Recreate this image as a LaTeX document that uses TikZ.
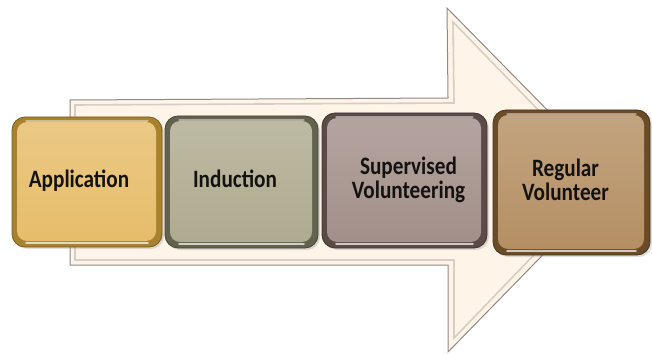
\documentclass[tikz,border=0pt]{standalone}
\usepackage{fontspec}
\usepackage{graphicx}
\setmainfont{Carlito}
\usetikzlibrary{shadows}
\definecolor{arrowfill}{HTML}{FEF4E8}
\definecolor{arrowline}{HTML}{8E8A86}
\definecolor{arrowinner}{HTML}{D6CEC6}
\definecolor{rimA}{HTML}{A8822E}\definecolor{faceA}{HTML}{E6BC68}
\definecolor{rimI}{HTML}{62624E}\definecolor{faceI}{HTML}{AEAA8E}
\definecolor{rimS}{HTML}{5A4A48}\definecolor{faceS}{HTML}{A28E88}
\definecolor{rimR}{HTML}{6A4C28}\definecolor{faceR}{HTML}{B48E62}
\definecolor{labeltext}{HTML}{141210}
\newcommand{\stagetext}[1]{\scalebox{1.06}[1.25]{\fontsize{20}{16}\selectfont\bfseries\begin{tabular}{@{}c@{}}#1\end{tabular}}}
\begin{document}
\begin{tikzpicture}[x=1pt,y=-1pt,
  stagebox/.style n args={4}{draw=#1!70!black, line width=0.8pt, fill=#1,
    rounded corners=13pt, minimum width=#3pt, minimum height=#4pt,
    inner sep=0pt, align=center, text=labeltext,
    drop shadow={opacity=0.25, shadow xshift=2pt, shadow yshift=-2pt},
    path picture={
      \shade[top color=#2!80!white, bottom color=#2, rounded corners=10pt]
        ([shift={(5pt,6pt)}]path picture bounding box.south west) rectangle
        ([shift={(-6pt,-5pt)}]path picture bounding box.north east);
      \draw[white, opacity=0.7, line width=1.6pt, line cap=round]
        ([shift={(14pt,4pt)}]path picture bounding box.south west) --
        ([shift={(-14pt,4pt)}]path picture bounding box.south east);
      \draw[white, opacity=0.45, line width=1.2pt, line cap=round]
        ([shift={(14pt,-4pt)}]path picture bounding box.north west) --
        ([shift={(-14pt,-4pt)}]path picture bounding box.north east);
    }},
  arrowshape/.style={fill=arrowfill, draw=arrowline, line width=1pt, line join=miter},
  arrowbevel/.style={draw=arrowinner, line width=1.6pt}
]
\useasboundingbox (0,0) rectangle (652,355);
% big arrow
\path[arrowshape] (70,100) -- (448,98) -- (447,8) -- (616,180) -- (448,352) -- (448,265) -- (70,265) -- cycle;
\draw[arrowbevel] (75,105) -- (454,103) -- (453,22) -- (606,180) -- (454,338) -- (454,260) -- (75,260) -- cycle;
% stages
\node[stagebox={rimA}{faceA}{150}{130}] (app) at (87,182) {\stagetext{Application}\hspace{16pt}};
\node[stagebox={rimI}{faceI}{153}{132}] (ind) at (241.5,182) {\stagetext{Induction}\hspace{13pt}};
\node[stagebox={rimS}{faceS}{165}{135}] (sup) at (404.5,180.5) {\hspace{8pt}\stagetext{Supervised\\Volunteering}};
\node[stagebox={rimR}{faceR}{157}{145}] (reg) at (571.5,182.5) {\stagetext{Regular\\Volunteer}\hspace{12pt}};
\end{tikzpicture}
\end{document}
